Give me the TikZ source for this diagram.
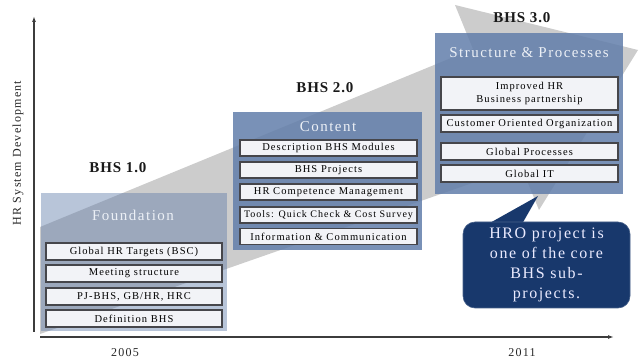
\documentclass[tikz,border=0pt]{standalone}
\usepackage{fontspec}
\setmainfont{Liberation Serif}
\newfontfamily\bhsfont[LetterSpace=6]{Liberation Serif}
\newfontfamily\spfont[LetterSpace=10]{Liberation Serif}
\usetikzlibrary{arrows.meta}
\definecolor{arrowgrey}{RGB}{204,204,204}
\definecolor{boxblue}{RGB}{98,126,170}
\definecolor{itemfill}{RGB}{242,243,247}
\definecolor{itemdraw}{RGB}{70,70,75}
\definecolor{navy}{RGB}{24,56,108}
\definecolor{axisgrey}{RGB}{60,60,60}
\definecolor{titletext}{RGB}{236,240,246}
\tikzset{
  panel/.style={rectangle, draw=none, fill=boxblue, inner sep=0pt},
  itembox/.style={rectangle, draw=itemdraw, line width=1.1pt, fill=itemfill,
    minimum width=177pt, minimum height=16pt, inner sep=0pt,
    font=\spfont\fontsize{10.5}{12}\selectfont, text=black, align=center},
  paneltitle/.style={font=\spfont\fontsize{15}{17}\selectfont, text=titletext},
  bhslabel/.style={font=\bhsfont\bfseries\fontsize{15}{17}\selectfont, text=black!90},
  axislabel/.style={font=\spfont\fontsize{12}{14}\selectfont, text=black!85},
  axisline/.style={draw=axisgrey, line width=1.3pt, -{Latex[length=6pt,width=4pt]}}
}
\begin{document}
\begin{tikzpicture}[x=1pt,y=-1pt]
\useasboundingbox (0,0) rectangle (643,363);
% big grey arrow
\fill[arrowgrey] (40,227) -- (473,49) -- (455,5) -- (638,50) -- (539,210) -- (521,166) -- (40,334) -- cycle;
% axes
\coordinate (yb) at (34,332);
\coordinate (yt) at (34,16);
\coordinate (xl) at (40,337);
\coordinate (xr) at (614,337);
\draw[axisline] (yb) -- (yt);
\draw[axisline] (xl) -- (xr);
\node[axislabel, rotate=90] (ylab) at (18,153) {HR System Development};
\node[axislabel] (y2005) at (125,353) {2005};
\node[axislabel] (y2011) at (522,353) {2011};
% panels
\node[panel, fill opacity=0.45, minimum width=186pt, minimum height=138pt] (p1) at (134,262) {};
\node[panel, fill opacity=0.85, minimum width=189pt, minimum height=138pt] (p2) at (327.5,181) {};
\node[panel, fill opacity=0.85, minimum width=188pt, minimum height=161pt] (p3) at (529,113.5) {};
% BHS labels
\node[bhslabel] (b1) at (118,168) {BHS 1.0};
\node[bhslabel] (b2) at (325,88) {BHS 2.0};
\node[bhslabel] (b3) at (522,18) {BHS 3.0};
% titles
\node[paneltitle] (t1) at (133,215) {Foundation};
\node[paneltitle] (t2) at (328,127) {Content};
\node[paneltitle] (t3) at (529,53) {Structure \& Processes};
% items panel 1
\node[itembox, minimum width=176pt, minimum height=17pt] (f1) at (134,251.5) {Global HR Targets (BSC)};
\node[itembox, minimum width=176pt, minimum height=17pt] (f2) at (134,273.5) {Meeting structure};
\node[itembox, minimum width=176pt, minimum height=17pt] (f3) at (134,296.5) {PJ-BHS, GB/HR, HRC};
\node[itembox, minimum width=176pt, minimum height=17pt] (f4) at (134,318.5) {Definition BHS};
% items panel 2
\node[itembox] (c1) at (328.5,148) {Description BHS Modules};
\node[itembox] (c2) at (328.5,170) {BHS Projects};
\node[itembox] (c3) at (328.5,192) {HR Competence Management};
\node[itembox, font=\spfont\fontsize{10}{12}\selectfont] (c4) at (328.5,215) {Tools: Quick Check \& Cost Survey};
\node[itembox] (c5) at (328.5,236.5) {Information \& Communication};
% items panel 3
\node[itembox, minimum height=33pt, font=\spfont\fontsize{10.5}{13}\selectfont] (s1) at (529.5,93.5) {Improved HR\\Business partnership};
\node[itembox, minimum height=17pt] (s2) at (529.5,123.5) {Customer Oriented Organization};
\node[itembox, minimum height=17pt] (s3) at (529.5,151.5) {Global Processes};
\node[itembox, minimum height=17pt] (s4) at (529.5,173.5) {Global IT};
% callout
\fill[navy] (488,224) -- (538,196) -- (522,224) -- cycle;
\node[rectangle, rounded corners=12pt, fill=navy, draw=navy!80!white, line width=0.6pt,
  minimum width=167pt, minimum height=86pt, inner sep=0pt, align=center,
  font=\spfont\fontsize{16}{20}\selectfont, text=white!92!blue] (call) at (546.5,265)
  {HRO project is\\one of the core\\BHS sub-\\projects.};
\end{tikzpicture}
\end{document}
